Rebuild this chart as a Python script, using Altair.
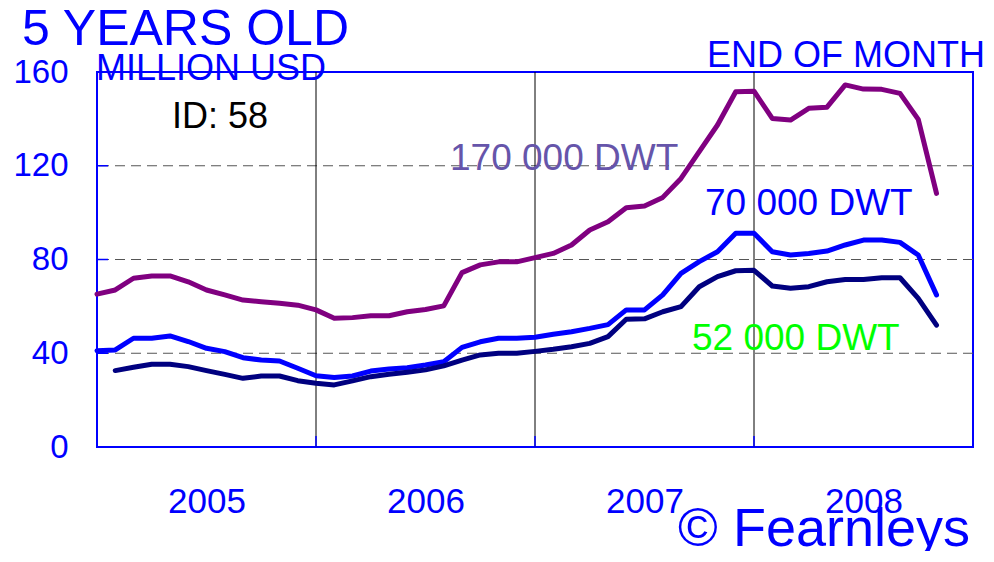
import altair as alt
import pandas as pd

# Month index: 0 = Jan 2005 ... 46 = Nov 2008
dwt170 = [65.2, 67.0, 72.0, 73.0, 73.0, 70.5, 67.0, 64.9, 62.7, 62.0, 61.3, 60.5,
          58.5, 54.9, 55.2, 56.0, 56.0, 57.7, 58.7, 60.2, 74.4, 77.7, 79.0, 79.0,
          80.8, 82.6, 86.2, 92.6, 96.1, 102.1, 102.8, 106.5, 114.6, 126.0, 137.4, 151.6,
          151.8, 140.2, 139.5, 144.5, 145.0, 154.5, 152.7, 152.6, 150.9, 139.8, 108.2]
dwt70 = [41.1, 41.4, 46.4, 46.4, 47.4, 45.0, 42.1, 40.7, 38.1, 37.1, 36.7, 33.6,
         30.4, 29.7, 30.3, 32.4, 33.3, 33.8, 35.0, 36.4, 42.5, 44.9, 46.4, 46.4,
         46.8, 48.1, 49.2, 50.6, 52.2, 58.5, 58.5, 64.9, 74.1, 79.1, 83.3, 91.2,
         91.2, 83.3, 81.9, 82.6, 83.6, 86.2, 88.3, 88.3, 87.3, 81.9, 64.9]
# starts Feb 2005 (index 1)
dwt52 = [32.6, 34.0, 35.3, 35.3, 34.3, 32.6, 31.0, 29.3, 30.3, 30.3, 28.3,
         27.2, 26.5, 28.2, 30.0, 31.0, 31.9, 32.9, 34.6, 37.1, 39.3, 40.0, 40.0,
         40.8, 41.7, 42.8, 44.2, 47.1, 54.5, 54.7, 57.7, 59.9, 68.4, 72.7, 75.2,
         75.4, 68.7, 67.7, 68.4, 70.5, 71.5, 71.5, 72.2, 72.2, 63.4, 52.0]

series_names = ["170 000 DWT", "70 000 DWT", "52 000 DWT"]
series_colors = ["#800080", "#0000FF", "#000080"]
year_boundaries = [12, 24, 36]
year_mid = [6, 18, 30, 42]
y_ticks = [0, 40, 80, 120, 160]
grid_vals = [40, 80, 120]

rows = []
for i, v in enumerate(dwt170):
    rows.append({"m": i, "v": v, "s": series_names[0], "o": 0})
for i, v in enumerate(dwt70):
    rows.append({"m": i, "v": v, "s": series_names[1], "o": 1})
for i, v in enumerate(dwt52):
    rows.append({"m": i + 1, "v": v, "s": series_names[2], "o": 2})
df = pd.DataFrame(rows)

W, H = 876, 375
FONT = "Liberation Sans"
BLUE = "#0000FF"

xs = alt.Scale(domain=[0, 48], nice=False, zero=False)
ys = alt.Scale(domain=[0, 160], nice=False)

grid = alt.Chart(pd.DataFrame({"g": grid_vals})).mark_rule(
    color="#555555", strokeWidth=1, strokeDash=[10, 6]
).encode(y=alt.Y("g:Q", scale=ys))

vlines = alt.Chart(pd.DataFrame({"b": year_boundaries})).mark_rule(
    color="#000000", strokeWidth=1
).encode(x=alt.X("b:Q", scale=xs))

xticks = alt.Chart(pd.DataFrame({"b": year_boundaries})).mark_rule(
    color=BLUE, strokeWidth=1.5
).encode(x=alt.X("b:Q", scale=xs), y=alt.value(H), y2=alt.value(H - 11))

yticks = alt.Chart(pd.DataFrame({"g": grid_vals})).mark_rule(
    color=BLUE, strokeWidth=1.5
).encode(y=alt.Y("g:Q", scale=ys), x=alt.value(0), x2=alt.value(11))

lines = alt.Chart(df).mark_line(strokeWidth=5, strokeCap="round", strokeJoin="round").encode(
    x=alt.X("m:Q", scale=xs,
            axis=alt.Axis(values=year_mid, labelExpr="toString(2004.5 + datum.value/12)",
                          title=None, grid=False, ticks=False, domain=False,
                          labelFont=FONT, labelFontSize=35, labelColor=BLUE,
                          labelPadding=37)),
    y=alt.Y("v:Q", scale=ys,
            axis=alt.Axis(values=y_ticks, title=None, grid=False, ticks=False, domain=False,
                          labelFont=FONT, labelFontSize=33, labelColor=BLUE,
                          labelPadding=29)),
    color=alt.Color("s:N", scale=alt.Scale(domain=series_names, range=series_colors), legend=None),
    order=alt.Order("o:Q"),
    detail="s:N",
)

def txt(t, x, y, size, color, align="left"):
    return alt.Chart(pd.DataFrame({"t": [t]})).mark_text(
        font=FONT, fontSize=size, color=color, align=align, baseline="alphabetic"
    ).encode(x=alt.value(x), y=alt.value(y), text="t:N")

labels = [
    txt("5 YEARS OLD", -75, -27, 50, BLUE),
    txt("MILLION USD", -1, 8, 36, BLUE),
    txt("END OF MONTH", 888, -5, 36, BLUE, "right"),
    txt("ID: 58", 75, 56, 36, "#000000"),
    txt("170 000 DWT", 353, 98, 37, "#6655AA"),
    txt("70 000 DWT", 608, 143, 37, BLUE),
    txt("52 000 DWT", 595, 278, 37, "#00FF00"),
    txt("© Fearnleys", 873, 474, 54, BLUE, "right"),
]

chart = alt.layer(grid, vlines, xticks, yticks, lines, *labels).properties(
    width=W, height=H,
    autosize=alt.AutoSizeParams(type="none"),
    padding={"left": 89, "top": 64, "right": 12, "bottom": 104},
    background="white",
).configure_view(stroke=BLUE, strokeWidth=2)

chart.save("out.html", embed_options={"renderer": "svg", "actions": False})
